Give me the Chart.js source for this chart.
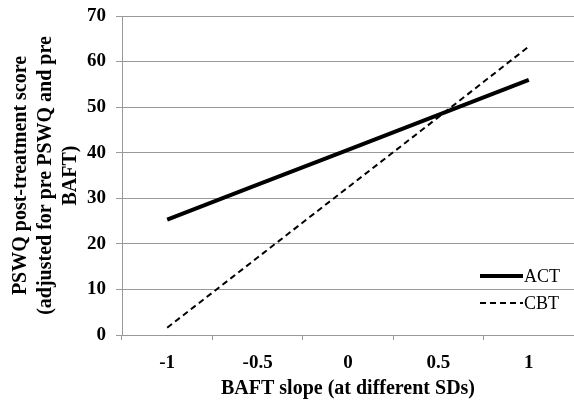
<!DOCTYPE html>
<html><head><meta charset="utf-8">
<script src="https://cdn.jsdelivr.net/npm/chart.js@4"></script>
<style>html,body{margin:0;padding:0;background:#fff}#w{width:574px;height:401px}</style>
</head><body><div id="w"><canvas id="c" width="574" height="401"></canvas></div>
<script>
const categories = ['-1', '-0.5', '0', '0.5', '1'];
const actValues = [25.3, 33.0, 40.6, 48.3, 56.0];
const cbtValues = [1.6, 17.0, 32.4, 47.8, 63.3];
const seriesNames = ['ACT', 'CBT'];
const yTitle = ['PSWQ post-treatment score', '(adjusted for pre PSWQ and pre', 'BAFT)'];
const xTitle = 'BAFT slope (at different SDs)';

const serif = "'Liberation Serif', 'DejaVu Serif', serif";

const legendPlugin = {
  id: 'insideLegend',
  afterDraw(chart) {
    const ctx = chart.ctx;
    const x0 = 480, x1 = 523;
    const ys = [276, 303];
    ctx.save();
    chart.data.datasets.forEach((ds, i) => {
      ctx.beginPath();
      ctx.strokeStyle = ds.borderColor;
      ctx.lineWidth = ds.borderWidth;
      ctx.setLineDash(ds.borderDash || []);
      ctx.moveTo(x0, ys[i]); ctx.lineTo(x1, ys[i]);
      ctx.stroke();
      ctx.setLineDash([]);
      ctx.fillStyle = '#000';
      ctx.font = "18px " + serif;
      ctx.textBaseline = 'middle';
      ctx.textAlign = 'left';
      ctx.fillText(ds.label, x1 + 1, ys[i] + 1);
    });
    ctx.restore();
  }
};

new Chart(document.getElementById('c'), {
  type: 'line',
  data: {
    labels: categories,
    datasets: [
      { label: seriesNames[0], data: actValues, borderColor: '#000', borderWidth: 4, pointRadius: 0, tension: 0, fill: false },
      { label: seriesNames[1], data: cbtValues, borderColor: '#000', borderWidth: 2, borderDash: [6, 4], pointRadius: 0, tension: 0, fill: false }
    ]
  },
  options: {
    responsive: false,
    animation: false,
    layout: { padding: { top: 0, right: 0, left: 0, bottom: 0 } },
    plugins: { legend: { display: false }, tooltip: { enabled: false } },
    scales: {
      x: {
        offset: true,
        grid: { offset: true, drawOnChartArea: false, drawTicks: true, tickLength: 5, color: '#999' },
        border: { color: '#999', width: 1 },
        ticks: { color: '#000', font: { family: serif, size: 19, weight: 'bold' }, padding: 12, maxRotation: 0 },
        title: { display: true, text: xTitle, color: '#000', font: { family: serif, size: 20, weight: 'bold' }, padding: { top: 0, bottom: 0 } },
        afterFit(s) { s.height = 66; s.paddingLeft = 0; s.paddingRight = 0; }
      },
      y: {
        min: 0, max: 70,
        ticks: { stepSize: 10, color: '#000', font: { family: serif, size: 19, weight: 'bold' }, padding: 10 },
        grid: { color: '#999', drawTicks: true, tickLength: 6, lineWidth: 1 },
        border: { color: '#999', width: 1 },
        title: { display: true, text: yTitle, color: '#000', font: { family: serif, size: 20, weight: 'bold', lineHeight: 1.25 }, padding: { top: 8, bottom: 4 } },
        afterFit(s) { s.width = 122; s.paddingTop = 16; s.paddingBottom = 0; }
      }
    }
  },
  plugins: [legendPlugin]
});
</script>
</body></html>
